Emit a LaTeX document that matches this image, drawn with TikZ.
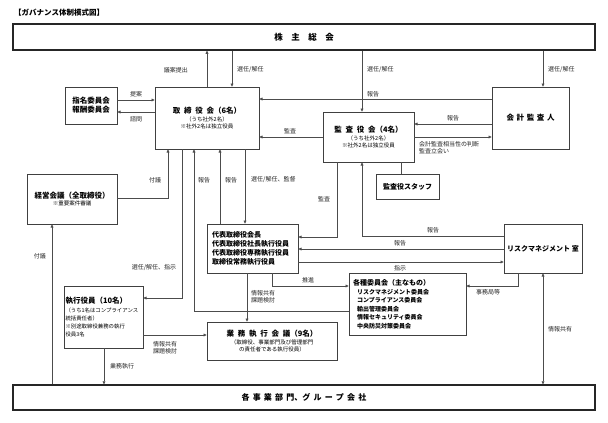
\documentclass[tikz,border=0pt]{standalone}
\usepackage{fontspec}
\setmainfont{Noto Sans CJK JP}
\usetikzlibrary{arrows.meta}
\newcommand{\fHead}{\fontsize{7.5}{9}\selectfont\bfseries}
\newcommand{\fSub}{\fontsize{5.5}{7}\selectfont}
\newcommand{\fLab}{\fontsize{6}{7}\selectfont}
\newcommand{\fMid}{\fontsize{7}{9}\selectfont\bfseries}
\newcommand{\gapA}{\hspace{0.5em}}
\newcommand{\gapB}{\hspace{0.35em}}
\newcommand{\gapC}{\hspace{0.4em}}
\begin{document}
\begin{tikzpicture}[x=1pt,y=-1pt,
 box/.style={draw=black!75,line width=0.6pt,inner sep=1pt,align=center},
 bigbox/.style={draw=black!85,line width=1.1pt,inner sep=1pt,align=center},
 conn/.style={draw=black!70,line width=0.6pt},
 arr/.style={conn,-{Triangle[length=3.2pt,width=2.8pt]}},
 darr/.style={conn,{Triangle[length=3.2pt,width=2.8pt]}-{Triangle[length=3.2pt,width=2.8pt]}},
 lab/.style={font=\fLab,inner sep=0pt,text=black!85},
]
\fill[white] (0,0) rectangle (608,423);
\useasboundingbox (0,0) rectangle (608,423);

% column / row coordinates
\foreach \c in {52,104,168,182,194,207,220,232,245,247,272,337,362,401,518,543}
  {\coordinate (x\c) at (\c,0);}
\foreach \r in {99,100,112,124,137,198,236,237,249,262,286,298,311,335}
  {\coordinate (y\r) at (0,\r);}

% title
\node[anchor=west,inner sep=0pt,font=\fontsize{7.5}{9}\selectfont\bfseries] (title) at (14,13) {【ガバナンス体制模式図】};

% boxes
\node[bigbox,minimum width=582pt,minimum height=26pt] (sh) at (304,37)
  {\fontsize{8.5}{10}\selectfont\bfseries 株\hspace{1em}主\hspace{1em}総\hspace{1em}会};
\node[box,minimum width=104pt,minimum height=62pt,font=\fSub] (tor) at (207,118)
  {{\fHead 取\gapA 締\gapA 役\gapA 会（6名）}\\[1pt]（うち社外2名）\\※社外2名は独立役員};
\node[box,minimum width=52pt,minimum height=37pt,font=\fHead] (shimei) at (91,105.5)
  {指名委員会\\報酬委員会};
\node[box,minimum width=91pt,minimum height=50pt,font=\fSub] (kansa) at (368.5,137)
  {{\fHead 監\gapA 査\gapA 役\gapA 会（4名）}\\[1pt]（うち社外2名）\\※社外2名は独立役員};
\node[box,minimum width=77pt,minimum height=62pt,font=\fHead] (kaikei) at (530.5,118)
  {会\gapB 計\gapB 監\gapB 査\gapB 人};
\node[box,minimum width=63pt,minimum height=25pt,font=\fMid] (staff) at (407.5,186.5)
  {監査役スタッフ};
\node[box,minimum width=90pt,minimum height=50pt,font=\fSub] (keiei) at (72,199)
  {{\fHead 経営会議（全取締役）}\\※重要案件審議};
\node[box,minimum width=91pt,minimum height=49pt,inner xsep=5pt,text width=81pt,align=left,font=\fMid] (daihyo) at (252.5,248.5)
  {代表取締役会長\\代表取締役社長執行役員\\代表取締役専務執行役員\\取締役常務執行役員};
\node[box,minimum width=78pt,minimum height=49pt,font=\fMid] (risk) at (543,248.5)
  {リスクマネジメント\hspace{0.25em}室};
\node[box,minimum width=117pt,minimum height=62pt,inner xsep=4pt,text width=109pt,align=left,font=\fontsize{6}{8.5}\selectfont\bfseries] (kakushu) at (407.5,304)
  {{\fontsize{7}{9}\selectfont 各種委員会（主なもの）}\\[0.5pt]
   \hspace*{4pt}リスクマネジメント委員会\\
   \hspace*{4pt}コンプライアンス委員会\\
   \hspace*{4pt}輸出管理委員会\\
   \hspace*{4pt}情報セキュリティ委員会\\
   \hspace*{4pt}中央防災対策委員会};
\node[box,minimum width=79pt,minimum height=62pt,inner xsep=1.5pt,text width=76pt,align=left,font=\fontsize{5.4}{8}\selectfont] (shikko) at (103.5,317)
  {{\fontsize{7.5}{9}\selectfont\bfseries 執行役員（10名）}\\[1pt]（うち1名はコンプライアンス\\統括責任者）\\※別途取締役兼務の執行\\役員3名};
\node[box,minimum width=130pt,minimum height=38pt,font=\fSub] (gyomu) at (272,341)
  {{\fHead 業\gapA 務\gapA 執\gapA 行\gapA 会\gapA 議（9名）}\\[1pt]（取締役、事業部門及び管理部門\\の責任者である執行役員）};
\node[bigbox,minimum width=582pt,minimum height=25pt] (kakuji) at (304,397.5)
  {\fontsize{8}{10}\selectfont\bfseries 各\gapC 事\gapC 業\gapC 部\gapC 門、グ\gapC ル\gapC ー\gapC プ\gapC 会\gapC 社};

% connectors
\draw[arr] (tor.north -| x207) -- (sh.south -| x207);
\draw[arr] (sh.south -| x232) -- (tor.north -| x232);
\draw[arr] (sh.south -| x362) -- (kansa.north -| x362);
\draw[arr] (sh.south -| x543) -- (kaikei.north -| x543);
\draw[arr] (kaikei.west |- y99) -- (tor.east |- y99);
\draw[arr] (shimei.east |- y100) -- (tor.west |- y100);
\draw[arr] (tor.west |- y112) -- (shimei.east |- y112);
\draw[arr] (kansa.west |- y137) -- (tor.east |- y137);
\draw[arr] (kaikei.west |- y124) -- (kansa.east |- y124);
\draw[arr] (kansa.east |- y137) -- (kaikei.west |- y137);
\draw[conn] (kansa.south -| x401) -- (staff.north -| x401);
\draw[arr] (kansa.south -| x337) |- (daihyo.east |- y237);
\draw[arr] (risk.west |- y236) -| (kansa.south -| x362);
\draw[arr] (risk.west |- y249) -- (daihyo.east |- y249);
\draw[arr] (daihyo.east |- y262) -- (risk.west |- y262);
\draw[arr] (risk.south -| x518) |- (kakushu.east |- y286);
\draw[darr] (kakuji.north -| x543) -- (risk.south -| x543);
\draw[arr] (keiei.east |- y198) -| (tor.south -| x168);
\draw[arr] (kakuji.north -| x52) -- (keiei.south -| x52);
\draw[arr] (tor.south -| x182) |- (shikko.east |- y298);
\draw[arr] (kakushu.west |- y311) -| (tor.south -| x194);
\draw[arr] (daihyo.north -| x220) -- (tor.south -| x220);
\draw[arr] (tor.south -| x245) -- (daihyo.north -| x245);
\draw[arr] (daihyo.south -| x272) |- (kakushu.west |- y286);
\draw[arr] (daihyo.south -| x247) -- (gyomu.north -| x247);
\draw[arr] (shikko.east |- y335) -- (gyomu.west |- y335);
\draw[arr] (shikko.south -| x104) -- (kakuji.north -| x104);

% labels
\node[lab,anchor=east] (l1) at (188,70) {議案提出};
\node[lab,anchor=west] (l2) at (237,70) {選任/解任};
\node[lab,anchor=west] (l3) at (367,70) {選任/解任};
\node[lab,anchor=west] (l4) at (548,70) {選任/解任};
\node[lab] (l5) at (373,94) {報告};
\node[lab] (l6) at (136,94) {提案};
\node[lab] (l7) at (136,119) {諮問};
\node[lab] (l8) at (290,131) {監査};
\node[lab] (l9) at (453,118) {報告};
\node[lab,anchor=north west,align=left] (l10) at (419,141) {会計監査相当性の判断\\監査立会い};
\node[lab] (l11) at (324,199) {監査};
\node[lab] (l12) at (433,230) {報告};
\node[lab] (l13) at (400,243) {報告};
\node[lab] (l14) at (400,268) {指示};
\node[lab] (l15) at (488,292) {事務局等};
\node[lab,anchor=west] (l16) at (548,329) {情報共有};
\node[lab] (l17) at (155,180) {付議};
\node[lab] (l18) at (40,256) {付議};
\node[lab] (l19) at (154,268) {選任/解任、指示};
\node[lab] (l20) at (204,180) {報告};
\node[lab] (l21) at (231,180) {報告};
\node[lab,anchor=west] (l22) at (251,180) {選任/解任、監督};
\node[lab] (l23) at (308,280) {推進};
\node[lab,anchor=north west,align=left] (l24) at (251,290) {情報共有\\課題検討};
\node[lab,align=center] (l25) at (165,347.5) {情報共有\\課題検討};
\node[lab,anchor=west] (l26) at (110,366) {業務執行};
\end{tikzpicture}
\end{document}
